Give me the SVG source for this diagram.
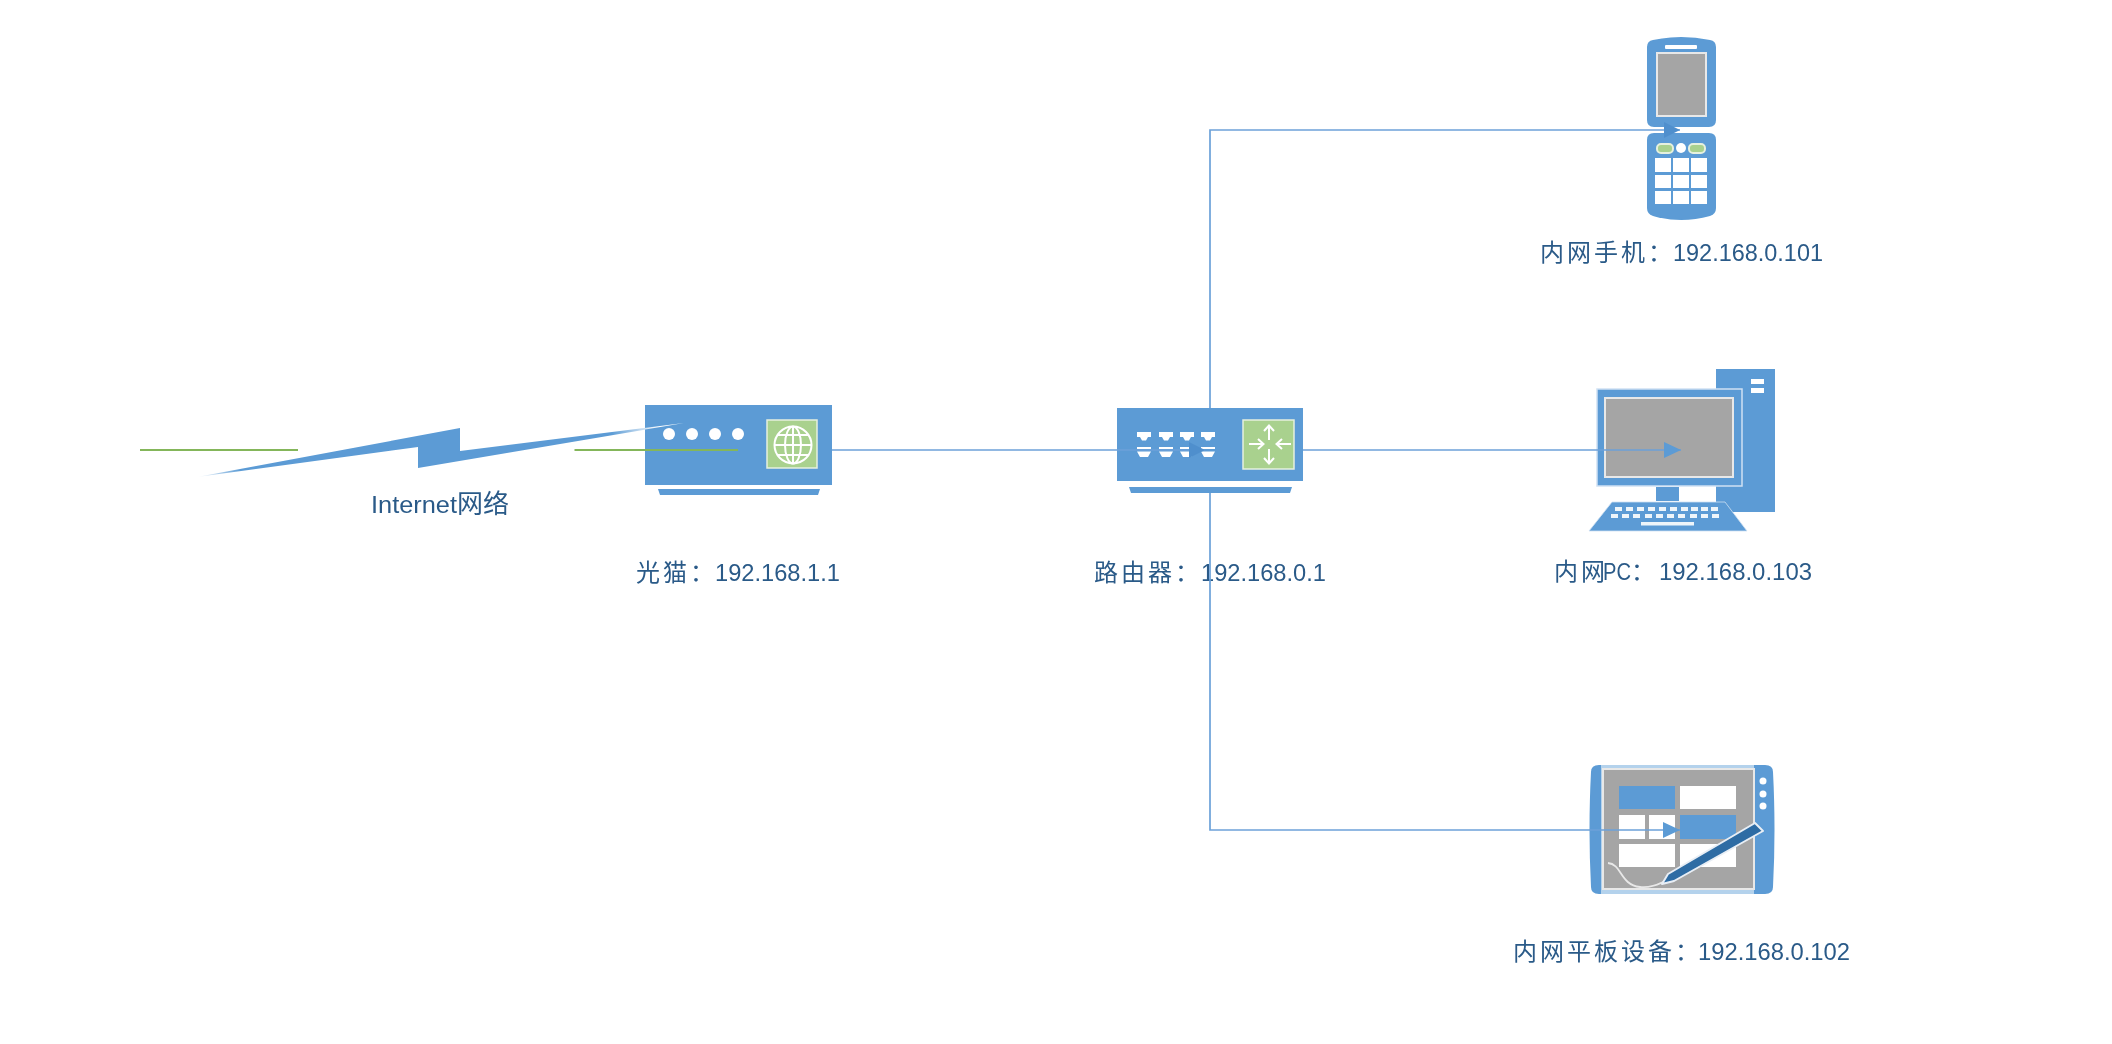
<svg xmlns="http://www.w3.org/2000/svg" xmlns:xlink="http://www.w3.org/1999/xlink" width="2112" height="1044" viewBox="0 0 2112 1044">
<style>
.b{fill:#5B9BD5}
.g{fill:#A9D18E;stroke:#E6F0DE;stroke-width:1.5}
.w{fill:#fff}
.s{fill:#A5A5A5;stroke:#E8E8E8;stroke-width:2}
.ws{fill:none;stroke:#fff;stroke-width:2}
.t{font-family:"Liberation Sans","Noto Sans CJK SC",sans-serif;font-size:23px;fill:#2A5A88}
.c{letter-spacing:3px;font-size:24px;font-family:"Noto Sans CJK SC",sans-serif}
.l{fill:none;stroke:#6CA1D9;stroke-width:1.7}
.gl{fill:none;stroke:#84B65A;stroke-width:2}
</style>
<defs>
<filter id="soft" x="0" y="0" width="1" height="1" filterUnits="objectBoundingBox"><feGaussianBlur stdDeviation="0.45"/></filter>
<linearGradient id="bolt" gradientUnits="userSpaceOnUse" x1="197" y1="0" x2="684" y2="0">
<stop offset="0" stop-color="#fff"/><stop offset="0.09" stop-color="#5B9BD5"/><stop offset="0.85" stop-color="#5B9BD5"/><stop offset="0.95" stop-color="#fff"/>
</linearGradient>
<marker id="a" markerUnits="userSpaceOnUse" markerWidth="17" markerHeight="16" refX="17" refY="8" orient="auto"><path d="M0,0L17,8L0,16Z" fill="#5B9BD5"/></marker>
<marker id="ad" markerUnits="userSpaceOnUse" markerWidth="16" markerHeight="16" refX="16" refY="8" orient="auto"><path d="M0,0L16,8L0,16Z" fill="#4F8FCD"/></marker>
<g id="pt"><path class="w" d="M0,432H14V437H11L9,440.500H5L3,437H0Z"/><path class="w" d="M0,447H14V449H0ZM0,451.500H14L11,457H3Z"/></g>
</defs>
<rect width="2112" height="1044" fill="#fff"/>
<g filter="url(#soft)">
<g id="modem">
<rect class="b" x="645" y="405" width="187" height="80"/>
<path class="b" d="M658,489H820L818,495H660Z"/>
<g class="w"><circle cx="669" cy="434" r="6"/><circle cx="692" cy="434" r="6"/><circle cx="715" cy="434" r="6"/><circle cx="738" cy="434" r="6"/></g>
<rect class="g" x="767" y="420" width="50" height="48"/>
<g class="ws"><circle cx="793" cy="445" r="18.500"/><ellipse cx="793" cy="445" rx="8" ry="18.500"/><path d="M793,426.500V463.500M775,445H811M777,435H809M777,455H809"/></g>
<text class="t" x="636" y="581"><tspan class="c">光猫：</tspan><tspan x="715" textLength="125" lengthAdjust="spacingAndGlyphs">192.168.1.1</tspan></text>
</g>
<g id="router">
<rect class="b" x="1117" y="408" width="186" height="73"/>
<path class="b" d="M1129,487H1292L1290,493H1131Z"/>
<use xlink:href="#pt" href="#pt" x="1137"/><use xlink:href="#pt" href="#pt" x="1159"/><use xlink:href="#pt" href="#pt" x="1180"/><use xlink:href="#pt" href="#pt" x="1201"/>
<rect class="g" x="1243" y="420" width="51" height="49"/>
<g class="ws"><path d="M1269,426V440M1264,431L1269,425.500L1274,431M1269,449V463M1264,458L1269,463.500L1274,458M1249,444H1263M1258,439L1263.500,444L1258,449M1291,444H1277M1282,439L1276.500,444L1282,449"/></g>
<text class="t" x="1094" y="581"><tspan class="c">路由器：</tspan><tspan x="1201" textLength="125" lengthAdjust="spacingAndGlyphs">192.168.0.1</tspan></text>
</g>
<g id="phone">
<path class="b" d="M1647,47Q1647,41 1653,40Q1681,34 1710,40Q1716,41 1716,47V120Q1716,127 1709,127H1654Q1647,127 1647,120Z"/>
<path class="b" d="M1654,133H1709Q1716,133 1716,140V208Q1716,214 1710,216Q1681,224 1653,216Q1647,214 1647,208V140Q1647,133 1654,133Z"/>
<rect class="w" x="1665" y="45" width="32" height="4" rx="1"/>
<rect class="s" x="1657" y="53" width="49" height="63"/>
<rect x="1657" y="144" width="16" height="9" rx="4" fill="#A9D18E" stroke="#E6F0DE" stroke-width="2"/>
<rect x="1689" y="144" width="16" height="9" rx="4" fill="#A9D18E" stroke="#E6F0DE" stroke-width="2"/>
<circle class="w" cx="1681" cy="148" r="5"/>
<g class="w">
<rect x="1655" y="158" width="16" height="14"/><rect x="1673" y="158" width="16" height="14"/><rect x="1691" y="158" width="16" height="14"/>
<rect x="1655" y="175" width="16" height="13"/><rect x="1673" y="175" width="16" height="13"/><rect x="1691" y="175" width="16" height="13"/>
<rect x="1655" y="191" width="16" height="13"/><rect x="1673" y="191" width="16" height="13"/><rect x="1691" y="191" width="16" height="13"/>
</g>
<text class="t" x="1540" y="261"><tspan class="c">内网手机：</tspan><tspan x="1673" textLength="150" lengthAdjust="spacingAndGlyphs">192.168.0.101</tspan></text>
</g>
<g id="pc">
<rect class="b" x="1716" y="369" width="59" height="143"/>
<g class="w"><rect x="1751" y="379" width="13" height="5"/><rect x="1751" y="388" width="13" height="5"/></g>
<rect class="b" x="1597" y="389" width="145" height="97" stroke="#CFE1F3" stroke-width="1.5"/>
<rect class="s" x="1605" y="398" width="128" height="79"/>
<rect class="b" x="1656" y="487" width="23" height="14"/>
<path class="b" d="M1612,502H1725L1747,531H1589Z" stroke="#CFE1F3" stroke-width="0.800"/>
<g class="w" opacity="0.9">
<rect x="1615" y="507" width="7" height="4"/><rect x="1626" y="507" width="7" height="4"/><rect x="1637" y="507" width="7" height="4"/><rect x="1648" y="507" width="7" height="4"/><rect x="1659" y="507" width="7" height="4"/><rect x="1670" y="507" width="7" height="4"/><rect x="1681" y="507" width="7" height="4"/><rect x="1691" y="507" width="7" height="4"/><rect x="1701" y="507" width="7" height="4"/><rect x="1711" y="507" width="7" height="4"/>
<rect x="1611" y="514" width="7" height="4"/><rect x="1622" y="514" width="7" height="4"/><rect x="1633" y="514" width="7" height="4"/><rect x="1645" y="514" width="7" height="4"/><rect x="1656" y="514" width="7" height="4"/><rect x="1667" y="514" width="7" height="4"/><rect x="1678" y="514" width="7" height="4"/><rect x="1690" y="514" width="7" height="4"/><rect x="1701" y="514" width="7" height="4"/><rect x="1712" y="514" width="7" height="4"/>
<rect x="1641" y="522" width="53" height="3.500"/>
</g>
<text class="t" x="1554" y="580"><tspan class="c">内网</tspan><tspan x="1603" textLength="28" lengthAdjust="spacingAndGlyphs">PC</tspan><tspan x="1631" class="c">：</tspan><tspan x="1659" textLength="153" lengthAdjust="spacingAndGlyphs">192.168.0.103</tspan></text>
</g>
<g id="tablet">
<path class="b" d="M1599,765H1765Q1773,765 1773,772Q1776,830 1773,887Q1773,894 1765,894H1599Q1591,894 1591,887Q1588,830 1591,772Q1591,765 1599,765Z"/>
<rect x="1601" y="765" width="153" height="129" fill="#B4D2EC"/>
<rect class="s" x="1603" y="769" width="151" height="120"/>
<rect class="b" x="1619" y="786" width="56" height="23"/>
<rect class="w" x="1680" y="786" width="56" height="23"/>
<rect class="w" x="1619" y="815" width="26" height="24"/>
<rect class="w" x="1649" y="815" width="26" height="24"/>
<rect class="b" x="1680" y="815" width="56" height="24"/>
<rect class="w" x="1619" y="844" width="56" height="23"/>
<rect class="w" x="1680" y="844" width="56" height="23"/>
<g class="w"><circle cx="1763" cy="781" r="3.500"/><circle cx="1763" cy="794" r="3.500"/><circle cx="1763" cy="806" r="3.500"/></g>
<path d="M1608,863C1622,864 1620,885 1640,887C1650,888 1658,885 1665,881" fill="none" stroke="#E8E8E8" stroke-width="1.800"/>
<path d="M1755,823L1763,831L1674,881L1662,884L1668,874Z" fill="#2E6CA4" stroke="#E8EEF5" stroke-width="2" stroke-linejoin="round"/>
<text class="t" x="1513" y="960"><tspan class="c">内网平板设备：</tspan><tspan x="1698" textLength="152" lengthAdjust="spacingAndGlyphs">192.168.0.102</tspan></text>
</g>
<g id="internet">
<path d="M197,477L460,428V451L684,423L418,468V447Z" fill="url(#bolt)"/>
<text class="t" x="371" y="513"><tspan textLength="86" lengthAdjust="spacingAndGlyphs">Internet</tspan><tspan x="457" class="c" style="letter-spacing:0;font-size:26px">网络</tspan></text>
</g>
<g id="connectors">
<path class="gl" d="M140,450H298M574.500,450H738"/>
<path class="l" d="M832,450H1205" marker-end="url(#ad)"/>
<path class="l" d="M1303,450H1681" marker-end="url(#a)"/>
<path class="l" d="M1210,408V130H1680" marker-end="url(#ad)"/>
<path class="l" d="M1210,493V830H1680" marker-end="url(#a)"/>
</g>
</g>
</svg>
